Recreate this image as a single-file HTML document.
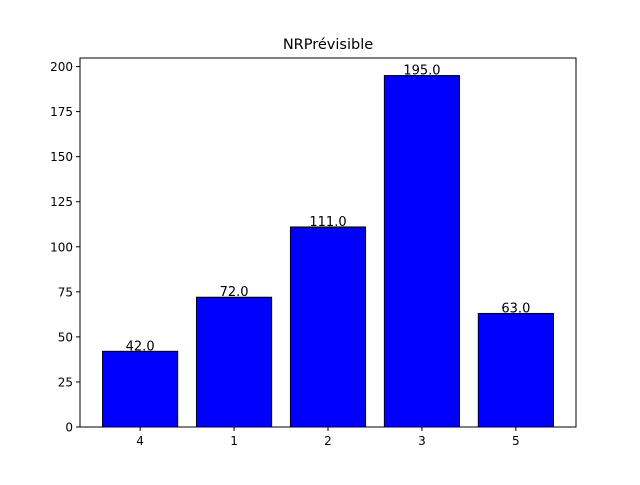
<!DOCTYPE html>
<html><head><meta charset="utf-8"><style>
body{margin:0;background:#fff;}
text{font-family:"DejaVu Sans","Liberation Sans",sans-serif;}
</style></head><body>
<svg id="chart" width="640" height="480"></svg>
<script>
const categories = ["4","1","2","3","5"];
const values = [42,72,111,195,63];
const yTicks = [0,25,50,75,100,125,150,175,200];
const title = "NRPrévisible";

const svg = document.getElementById('chart');
const NS = "http://www.w3.org/2000/svg";
const L=80,R=576,T=58,B=427;
const yMax = Math.max(...values)*1.05;
const xMin=-0.64, xMax=categories.length-1+0.64;
function y(v){return B-(B-T)*v/yMax;}
function x(i){return L+(R-L)*(i-xMin)/(xMax-xMin);}
function el(tag,attrs,txt){const e=document.createElementNS(NS,tag);for(const k in attrs)e.setAttribute(k,attrs[k]);if(txt!==undefined)e.textContent=txt;svg.appendChild(e);return e;}
const bw=(R-L)*0.8/(xMax-xMin);
values.forEach((v,i)=>{
  const r=el('rect',{x:x(i)-bw/2,y:y(v),width:bw,height:B-y(v),fill:'#0000ff',stroke:'#000','stroke-width':1});
  
  
  const t=el('text',{x:x(i),y:y(v)-1,'text-anchor':'middle','font-size':13,fill:'#000'},v.toFixed(1));
  
  
  el('line',{x1:x(i),x2:x(i),y1:B,y2:B+4,stroke:'#000'});
  const xl=el('text',{x:x(i),y:B+18,'text-anchor':'middle','font-size':12},categories[i]);
  
  
});
yTicks.forEach(t=>{
  el('line',{x1:L-4,x2:L,y1:y(t),y2:y(t),stroke:'#000'});
  const yl=el('text',{x:L-7,y:y(t)+4.5,'text-anchor':'end','font-size':12},String(t));
  
  
});
const f=el('rect',{x:L,y:T,width:R-L,height:B-T,fill:'none',stroke:'#000','stroke-width':1});


const tt=el('text',{x:(L+R)/2,y:T-9,'text-anchor':'middle','font-size':14.5},title);


</script>
</body></html>
